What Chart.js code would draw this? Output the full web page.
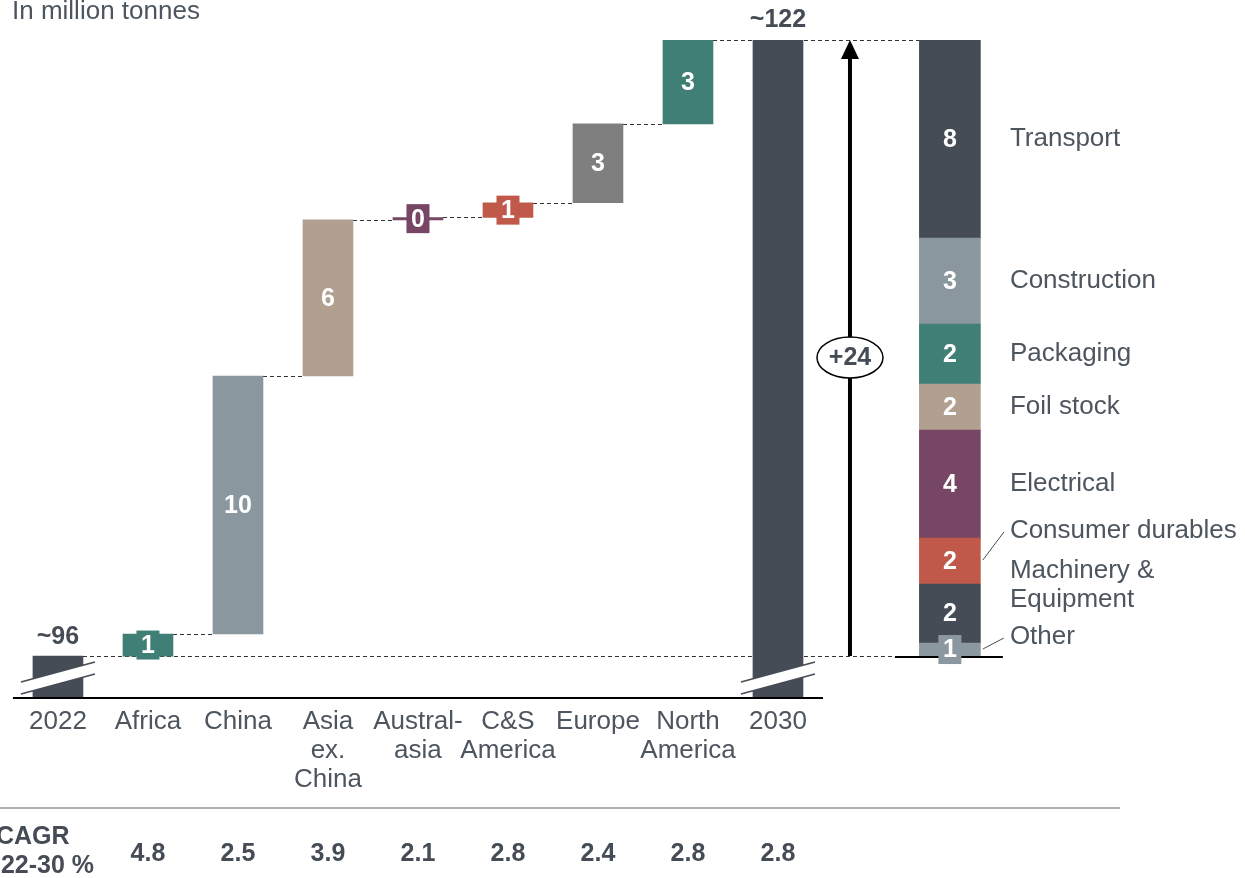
<!DOCTYPE html>
<html>
<head>
<meta charset="utf-8">
<script src="https://cdn.jsdelivr.net/npm/chart.js@4.4.1/dist/chart.umd.min.js"></script>
<style>
  body { margin: 0; background: #fff; }
  canvas { display: block; }
</style>
</head>
<body>
<canvas id="wfChart" width="1245" height="878"></canvas>
<script>
// data
const categories = [['2022'], ['Africa'], ['China'], ['Asia', 'ex.', 'China'], ['Austral-', 'asia'],
    ['C&S', 'America'], ['Europe'], ['North', 'America'], ['2030']];
const startValue = 96;
const endValue = 122;
const startLabel = '~96';
const endLabel = '~122';
const regionDeltas = [0.93, 10.89, 6.59, 0.1, 0.62, 3.33, 3.54];
const regionLabels = ['1', '10', '6', '0', '1', '3', '3'];
const cagrValues = ['4.8', '2.5', '3.9', '2.1', '2.8', '2.4', '2.8', '2.8'];
const growthLabel = '+24';
// end-use split of the growth, bottom to top
const segmentNames = ['Other', 'Machinery & Equipment', 'Consumer durables', 'Electrical', 'Foil stock', 'Packaging', 'Construction', 'Transport'];
const segmentValues = [0.55, 2.49, 1.94, 4.56, 1.94, 2.53, 3.63, 8.36];
const segmentLabels = ['1', '2', '2', '4', '2', '2', '3', '8'];

const FONT = '"Liberation Sans", Arial, sans-serif';
const DARK = '#454c55';
const TEXT = '#4d555e';
const regionColors = ['#3f7f76', '#8a979f', '#b1a08f', '#764664', '#c0594a', '#7f7f7f', '#3f7f76'];
const segmentColors = ['#8b989f', '#454c55', '#c0594a', '#764664', '#b1a08f', '#3f7f76', '#8b979f', '#454c55'];
const Y_MIN = 94.23;
const ARROW_X = 8.8;
const STACK_X = 9.91;

// waterfall bars as floating ranges
const wfData = [{ x: 0, y: [Y_MIN, startValue] }];
let run = startValue;
regionDeltas.forEach(function (d, i) {
    wfData.push({ x: i + 1, y: [run, run + d] });
    run += d;
});
wfData.push({ x: categories.length - 1, y: [Y_MIN, endValue] });
const wfColors = [DARK].concat(regionColors, [DARK]);

const datasets = [{
    data: wfData,
    backgroundColor: wfColors,
    barThickness: 50,
    grouped: false
}];
let acc = startValue;
segmentValues.forEach(function (v, i) {
    datasets.push({
        data: [{ x: STACK_X, y: [acc, acc + v] }],
        backgroundColor: segmentColors[i],
        barThickness: 61,
        grouped: false
    });
    acc += v;
});

function dashed(ctx, x1, x2, y) {
    ctx.save();
    ctx.strokeStyle = '#333';
    ctx.lineWidth = 1;
    ctx.setLineDash([4, 3]);
    ctx.beginPath();
    ctx.moveTo(x1, y + 0.5);
    ctx.lineTo(x2, y + 0.5);
    ctx.stroke();
    ctx.restore();
}

function breakMark(ctx, cx, yBase) {
    // white slash band with dark edges
    ctx.save();
    ctx.fillStyle = '#fff';
    ctx.beginPath();
    ctx.moveTo(cx - 37, yBase - 16);
    ctx.lineTo(cx + 37, yBase - 36);
    ctx.lineTo(cx + 37, yBase - 24);
    ctx.lineTo(cx - 37, yBase - 4);
    ctx.closePath();
    ctx.fill();
    ctx.strokeStyle = DARK;
    ctx.lineWidth = 1.5;
    ctx.beginPath();
    ctx.moveTo(cx - 37, yBase - 16);
    ctx.lineTo(cx + 37, yBase - 36);
    ctx.moveTo(cx - 37, yBase - 4);
    ctx.lineTo(cx + 37, yBase - 24);
    ctx.stroke();
    ctx.restore();
}

function barLabel(ctx, bar, text, color) {
    const cy = (bar.y + bar.base) / 2;
    const h = Math.abs(bar.base - bar.y);
    if (h < 30) {
        ctx.fillStyle = color;
        ctx.fillRect(bar.x - 11.5, cy - 14.5, 23, 29);
    }
    ctx.fillStyle = '#fff';
    ctx.font = 'bold 25px ' + FONT;
    ctx.textAlign = 'center';
    ctx.textBaseline = 'middle';
    ctx.fillText(text, bar.x, cy + 1);
}

const decorations = {
    id: 'decorations',
    beforeDatasetsDraw(chart) {
        const ctx = chart.ctx;
        const xs = chart.scales.x, ys = chart.scales.y;
        const bars = chart.getDatasetMeta(0).data;
        const stackLeft = xs.getPixelForValue(STACK_X) - 30.5;
        // connectors between region bars
        for (let i = 1; i < bars.length - 2; i++) {
            dashed(ctx, bars[i].x + 25, bars[i + 1].x - 25, Math.round(bars[i].y));
        }
        dashed(ctx, bars[0].x + 25, stackLeft - 25, Math.round(ys.getPixelForValue(startValue)));
        dashed(ctx, bars[bars.length - 2].x + 25, stackLeft, Math.round(ys.getPixelForValue(endValue)));
    },
    afterDatasetsDraw(chart) {
        const ctx = chart.ctx;
        const xs = chart.scales.x, ys = chart.scales.y;
        const bars = chart.getDatasetMeta(0).data;
        const area = chart.chartArea;
        ctx.save();

        // break marks on the two totals
        breakMark(ctx, bars[0].x, area.bottom);
        breakMark(ctx, bars[bars.length - 1].x, area.bottom);

        // axis line
        ctx.strokeStyle = '#000';
        ctx.lineWidth = 2;
        ctx.beginPath();
        ctx.moveTo(xs.getPixelForValue(-0.5), area.bottom);
        ctx.lineTo(xs.getPixelForValue(categories.length - 0.5), area.bottom);
        ctx.stroke();

        // labels in region bars
        regionLabels.forEach(function (t, i) {
            barLabel(ctx, bars[i + 1], t, regionColors[i]);
        });
        ctx.fillStyle = DARK;
        ctx.font = 'bold 25px ' + FONT;
        ctx.textAlign = 'center';
        ctx.textBaseline = 'middle';
        ctx.fillText(startLabel, bars[0].x, bars[0].y - 19);
        ctx.fillText(endLabel, bars[bars.length - 1].x, bars[bars.length - 1].y - 20);

        // stacked split
        const sx = xs.getPixelForValue(STACK_X);
        const yStart = ys.getPixelForValue(startValue);
        ctx.strokeStyle = '#000';
        ctx.lineWidth = 2;
        ctx.beginPath();
        ctx.moveTo(sx - 55, yStart + 1);
        ctx.lineTo(sx + 53, yStart + 1);
        ctx.stroke();
        const shifts = [-13, -29, -30, 0, 0, 0, 0, 0];
        segmentLabels.forEach(function (t, i) {
            const seg = chart.getDatasetMeta(i + 1).data[0];
            barLabel(ctx, seg, t, segmentColors[i]);
            const cy = (seg.y + seg.base) / 2 + shifts[i];
            ctx.fillStyle = TEXT;
            ctx.font = '26px ' + FONT;
            ctx.textAlign = 'left';
            ctx.textBaseline = 'middle';
            if (segmentNames[i] === 'Machinery & Equipment') {
                ctx.fillText('Machinery &', sx + 60, cy - 14);
                ctx.fillText('Equipment', sx + 60, cy + 15);
            } else {
                ctx.fillText(segmentNames[i], sx + 60, cy);
            }
        });
        // leader lines
        ctx.strokeStyle = DARK;
        ctx.lineWidth = 1;
        ctx.beginPath();
        ctx.moveTo(sx + 33, 560); ctx.lineTo(sx + 54, 532);
        ctx.moveTo(sx + 33, 649); ctx.lineTo(sx + 54, 638);
        ctx.stroke();

        // growth arrow
        const ax = xs.getPixelForValue(ARROW_X);
        const yEnd = ys.getPixelForValue(endValue);
        ctx.strokeStyle = '#000';
        ctx.fillStyle = '#000';
        ctx.lineWidth = 4;
        ctx.beginPath();
        ctx.moveTo(ax, yStart);
        ctx.lineTo(ax, yEnd + 14);
        ctx.stroke();
        ctx.beginPath();
        ctx.moveTo(ax, yEnd);
        ctx.lineTo(ax - 9, yEnd + 19);
        ctx.lineTo(ax + 9, yEnd + 19);
        ctx.closePath();
        ctx.fill();
        const ey = ys.getPixelForValue(108.6);
        ctx.fillStyle = '#fff';
        ctx.lineWidth = 1.5;
        ctx.beginPath();
        ctx.ellipse(ax, ey, 33, 20.5, 0, 0, Math.PI * 2);
        ctx.fill();
        ctx.stroke();
        ctx.fillStyle = DARK;
        ctx.font = 'bold 25px ' + FONT;
        ctx.textAlign = 'center';
        ctx.fillText(growthLabel, ax, ey + 1);

        // unit note
        ctx.fillStyle = TEXT;
        ctx.font = '26px ' + FONT;
        ctx.textAlign = 'left';
        ctx.fillText('In million tonnes', 12, 12);

        // CAGR row
        ctx.strokeStyle = '#b0b0b0';
        ctx.lineWidth = 2;
        ctx.beginPath();
        ctx.moveTo(0, 808);
        ctx.lineTo(1120, 808);
        ctx.stroke();
        ctx.fillStyle = DARK;
        ctx.font = 'bold 25px ' + FONT;
        ctx.fillText('CAGR', -4, 837);
        ctx.fillText('\u201822-30 %', -6, 866);
        ctx.textAlign = 'center';
        cagrValues.forEach(function (v, i) {
            ctx.fillText(v, xs.getPixelForValue(i + 1), 854);
        });
        ctx.restore();
    }
};

new Chart(document.getElementById('wfChart').getContext('2d'), {
    type: 'bar',
    data: { datasets: datasets },
    options: {
        responsive: false,
        animation: false,
        events: [],
        layout: { padding: { top: 40, left: 0, right: 0, bottom: 0 } },
        plugins: {
            legend: { display: false },
            tooltip: { enabled: false }
        },
        scales: {
            x: {
                type: 'linear',
                offset: false,
                min: -0.644,
                max: 13.189,
                grid: { display: false, drawTicks: false },
                border: { display: false },
                afterBuildTicks: function (scale) {
                    scale.ticks = categories.map(function (c, i) { return { value: i }; });
                },
                afterFit: function (scale) { scale.height = 180; },
                ticks: {
                    autoSkip: false,
                    maxRotation: 0,
                    padding: 9,
                    color: TEXT,
                    font: { family: FONT, size: 26, lineHeight: 1.12 },
                    callback: function (v) { return categories[v]; }
                }
            },
            y: {
                display: false,
                min: Y_MIN,
                max: endValue
            }
        }
    },
    plugins: [decorations]
});
</script>
</body>
</html>
